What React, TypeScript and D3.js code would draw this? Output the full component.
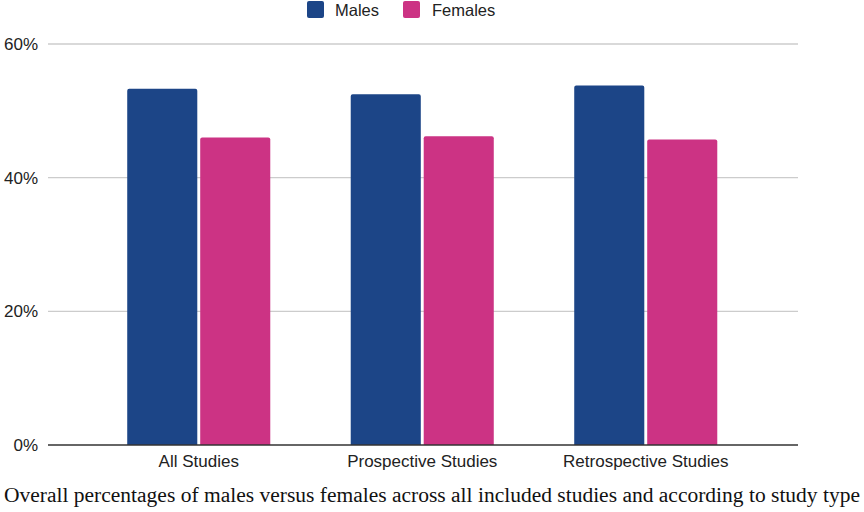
import React from 'react';
import * as d3 from 'd3';

// values (percent)
const categories = ['All Studies', 'Prospective Studies', 'Retrospective Studies'];
const seriesNames = ['Males', 'Females'];
const males = [53.3, 52.5, 53.8];
const females = [46.0, 46.2, 45.7];
const yTicks = [0, 20, 40, 60];
const caption = 'Overall percentages of males versus females across all included studies and according to study type';

const colors = ['#1c4587', '#cc3384'];

const App = () => {
    const width = 864;
    const height = 512;
    const gridLeft = 48;
    const gridRight = 798;

    const x = d3.scaleBand().domain(categories).range([87, 757.5]).paddingInner(0.36).paddingOuter(0.18);
    const xInner = d3.scaleBand().domain(seriesNames).range([0, x.bandwidth()]).paddingInner(0.04);
    const y = d3.scaleLinear().domain([0, 60]).range([445, 44]);

    const values = [males, females];
    const r = 2;

    // bar with rounded top corners only
    const barPath = (x0, w, top, bottom) => {
        const p = d3.path();
        p.moveTo(x0, bottom);
        p.lineTo(x0, top + r);
        p.arcTo(x0, top, x0 + r, top, r);
        p.lineTo(x0 + w - r, top);
        p.arcTo(x0 + w, top, x0 + w, top + r, r);
        p.lineTo(x0 + w, bottom);
        p.closePath();
        return p.toString();
    };

    const font = 'Arial, "Liberation Sans", sans-serif';

    return (
        <svg
            width={width}
            height={height}
            style={{position: 'absolute', left: 0, top: 0, background: '#fff'}}
            fontFamily={font}
        >
            {/* gridlines */}
            {yTicks.map((t) => (
                <g key={t}>
                    {t !== 0 && (
                        <line x1={gridLeft} x2={gridRight} y1={y(t)} y2={y(t)} stroke="#cccccc" strokeWidth={1.3} />
                    )}
                    <text x={38} y={y(t)} dy="0.36em" textAnchor="end" fontSize={17} fill="#222">
                        {t}%
                    </text>
                </g>
            ))}

            {/* bars */}
            {categories.map((c, i) => (
                <g key={c} transform={`translate(${x(c)},0)`}>
                    {seriesNames.map((s, j) => (
                        <path
                            key={s}
                            d={barPath(xInner(s), xInner.bandwidth(), y(values[j][i]), y(0))}
                            fill={colors[j]}
                        />
                    ))}
                </g>
            ))}

            {/* baseline */}
            <line x1={gridLeft} x2={gridRight} y1={y(0)} y2={y(0)} stroke="#333" strokeWidth={1.5} />

            {/* category labels */}
            {categories.map((c) => (
                <text key={c} x={x(c) + x.bandwidth() / 2} y={467} textAnchor="middle" fontSize={17} fill="#222">
                    {c}
                </text>
            ))}

            {/* legend */}
            <g>
                <rect x={307} y={1} width={17} height={17} rx={2} fill={colors[0]} />
                <text x={335} y={15.5} fontSize={16.5} fill="#222">
                    Males
                </text>
                <rect x={403} y={1} width={17} height={17} rx={2} fill={colors[1]} />
                <text x={432} y={15.5} fontSize={16.5} fill="#222">
                    Females
                </text>
            </g>

            {/* caption */}
            <text
                x={432}
                y={502}
                textAnchor="middle"
                fontSize={20.5}
                fontFamily='"Liberation Serif", "Times New Roman", serif'
                fill="#111"
                textLength={856}
                lengthAdjust="spacingAndGlyphs"
            >
                {caption}
            </text>
        </svg>
    );
};

export default App;
